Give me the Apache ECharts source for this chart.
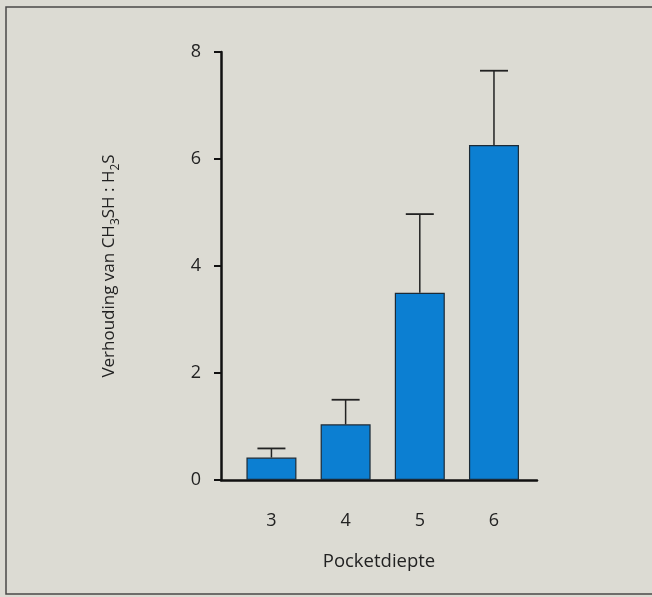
<!DOCTYPE html>
<html>
<head>
<meta charset="utf-8">
<script src="https://cdn.jsdelivr.net/npm/echarts@6/dist/echarts.min.js"></script>
<style>
html,body{margin:0;padding:0;background:#dcdbd3;}
#chart{width:652px;height:597px;}
</style>
</head>
<body>
<div id="chart"></div>
<script>
// Data
var pocketDepths = [3, 4, 5, 6];
var ratioMeans = [0.42, 1.04, 3.50, 6.26];
var ratioUpper = [0.59, 1.50, 4.97, 7.65];
var yTicks = [0, 2, 4, 6, 8];

var barData = pocketDepths.map(function (d, i) { return [d, ratioMeans[i]]; });
var errData = pocketDepths.map(function (d, i) { return [d, ratioMeans[i], ratioUpper[i]]; });

var fontFam = '"Open Sans", "Noto Sans", sans-serif';
var chart = echarts.init(document.getElementById('chart'));
chart.setOption({
  backgroundColor: '#dcdbd3',
  animation: false,
  graphic: [{
    type: 'rect',
    shape: { x: 6, y: 7, width: 700, height: 587 },
    style: { fill: 'none', stroke: '#4a4a48', lineWidth: 1.5 },
    silent: true
  }],
  grid: { left: 221, right: 115, top: 52, bottom: 117 },
  xAxis: {
    type: 'value',
    min: 2.32,
    max: 6.58,
    name: 'Pocketdiepte',
    nameLocation: 'middle',
    nameGap: 72,
    nameTextStyle: { fontFamily: fontFam, fontSize: 18.5, color: '#222' },
    axisLine: { show: true, onZero: false, lineStyle: { color: '#111', width: 2.5 } },
    axisTick: { show: false },
    splitLine: { show: false },
    axisLabel: {
      customValues: pocketDepths,
      margin: 32,
      fontFamily: fontFam, fontSize: 18, color: '#222'
    }
  },
  yAxis: {
    type: 'value',
    min: 0,
    max: 8,
    interval: 2,
    name: '{n|Verhouding van CH}{s|3}{n|SH : H}{s|2}{n|S}',
    nameLocation: 'middle',
    nameGap: 99,
    nameRotate: 90,
    nameTextStyle: {
      fontFamily: fontFam, color: '#222',
      rich: {
        n: { fontFamily: fontFam, fontSize: 17, color: '#222', lineHeight: 26, verticalAlign: 'middle' },
        s: { fontFamily: fontFam, fontSize: 12, color: '#222', lineHeight: 13, verticalAlign: 'bottom' }
      }
    },
    axisLine: { show: true, lineStyle: { color: '#111', width: 2.5 } },
    axisTick: { show: true, length: 7, lineStyle: { color: '#111', width: 2 } },
    splitLine: { show: false },
    axisLabel: {
      margin: 20,
      fontFamily: fontFam, fontSize: 18, color: '#222',
      customValues: yTicks
    }
  },
  series: [{
    type: 'bar',
    data: barData,
    barWidth: 50,
    itemStyle: { color: '#0c7fd2', borderColor: '#1c2a36', borderWidth: 1.2 },
    z: 2
  }, {
    type: 'custom',
    data: errData,
    z: 3,
    renderItem: function (params, api) {
      var x = api.value(0);
      var p0 = api.coord([x, api.value(1)]);
      var p1 = api.coord([x, api.value(2)]);
      var half = 14;
      return {
        type: 'group',
        children: [{
          type: 'line',
          shape: { x1: p0[0], y1: p0[1], x2: p1[0], y2: p1[1] },
          style: { stroke: '#222', lineWidth: 1.5 }
        }, {
          type: 'line',
          shape: { x1: p1[0] - half, y1: p1[1], x2: p1[0] + half, y2: p1[1] },
          style: { stroke: '#222', lineWidth: 1.8 }
        }]
      };
    }
  }]
});
</script>
</body>
</html>
